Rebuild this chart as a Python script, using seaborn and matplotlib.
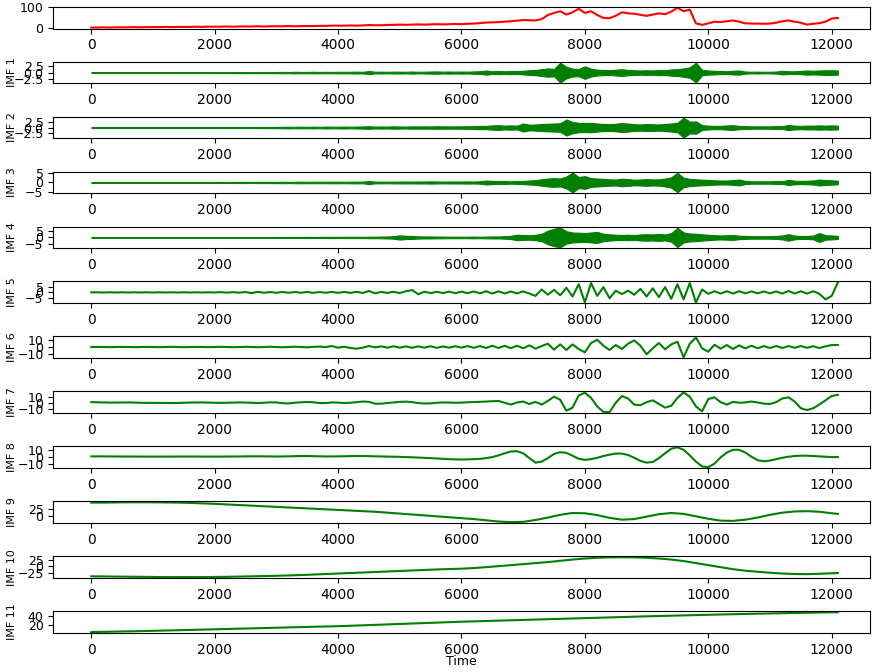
import numpy as np
import matplotlib
matplotlib.use("Agg")
import matplotlib.pyplot as plt
import seaborn as sns

# --- sample times (fine grid for the signal / IMFs, coarse grid for the slow ones) ---
time = np.arange(0, 12101, 100)
time_c = np.append(np.arange(0, 12001, 200), 12100)

# --- original signal ---
signal = [
    2, 2, 3, 2, 3, 3, 3, 4, 3, 4,
    4, 4, 5, 4, 5, 5, 5, 6, 5, 6,
    6, 6, 7, 6, 7, 7, 7, 8, 7, 8,
    8, 8, 9, 8, 9, 9, 9, 10, 10, 11,
    11, 11, 12, 11, 12, 14, 13, 13, 14, 15,
    16, 15, 16, 17, 16, 17, 18, 17, 18, 19,
    18, 20, 21, 23, 26, 27, 28, 30, 32, 35,
    38, 37, 36, 42, 62, 72, 80, 64, 75, 92,
    72, 80, 62, 48, 47, 58, 75, 70, 68, 63,
    58, 64, 70, 66, 78, 97, 80, 88, 22, 15,
    22, 30, 28, 32, 36, 30, 22, 21, 21, 20,
    21, 25, 32, 36, 30, 25, 16, 20, 23, 30,
    45, 48,
]

# --- high-frequency IMFs: amplitude envelope of the dense oscillation ---
imf1_env = [
    0.1, 0.1, 0.12, 0.1, 0.12, 0.1, 0.12, 0.12, 0.1, 0.12,
    0.12, 0.15, 0.12, 0.15, 0.12, 0.15, 0.15, 0.12, 0.15, 0.15,
    0.15, 0.18, 0.15, 0.2, 0.18, 0.2, 0.18, 0.2, 0.22, 0.2,
    0.22, 0.25, 0.22, 0.3, 0.25, 0.25, 0.3, 0.25, 0.28, 0.25,
    0.3, 0.28, 0.3, 0.35, 0.3, 0.6, 0.3, 0.35, 0.3, 0.35,
    0.35, 0.3, 0.4, 0.3, 0.35, 0.4, 0.45, 0.35, 0.4, 0.35,
    0.4, 0.35, 0.45, 0.5, 0.8, 0.5, 0.6, 0.5, 0.6, 0.55,
    0.7, 0.9, 1.0, 1.3, 1.6, 1.4, 3.8, 2.2, 1.5, 1.4,
    2.4, 1.5, 1.1, 1.0, 0.9, 1.1, 1.3, 1.0, 0.9, 0.8,
    0.9, 0.8, 1.0, 0.9, 1.2, 1.3, 1.6, 2.0, 3.8, 1.0,
    0.8, 0.7, 0.6, 0.5, 0.7, 0.8, 0.4, 0.3, 0.35, 0.3,
    0.3, 0.4, 0.7, 0.5, 0.5, 0.6, 0.8, 0.7, 0.8, 0.9,
    0.9, 0.8,
]
imf2_env = [
    0.1, 0.1, 0.12, 0.1, 0.12, 0.1, 0.12, 0.12, 0.1, 0.12,
    0.12, 0.15, 0.12, 0.15, 0.12, 0.15, 0.15, 0.12, 0.15, 0.15,
    0.18, 0.2, 0.18, 0.2, 0.2, 0.22, 0.2, 0.22, 0.25, 0.22,
    0.25, 0.3, 0.35, 0.3, 0.35, 0.3, 0.35, 0.3, 0.4, 0.35,
    0.35, 0.4, 0.35, 0.4, 0.45, 0.55, 0.4, 0.45, 0.4, 0.5,
    0.45, 0.4, 0.5, 0.45, 0.5, 0.45, 0.55, 0.5, 0.45, 0.5,
    0.5, 0.55, 0.6, 0.7, 0.7, 0.9, 1.0, 0.8, 0.9, 0.8,
    1.7, 1.2, 1.3, 1.5, 1.6, 1.7, 1.8, 3.4, 2.4, 2.0,
    1.9, 2.0, 1.7, 1.5, 1.4, 1.6, 1.9, 1.7, 1.4, 1.3,
    1.5, 1.4, 1.3, 1.5, 1.7, 2.0, 4.2, 2.5, 2.6, 1.0,
    0.8, 0.7, 0.7, 0.9, 1.0, 0.7, 0.6, 0.5, 0.5, 0.5,
    0.5, 0.6, 0.6, 1.1, 0.8, 0.7, 0.8, 0.8, 0.9, 0.8,
    0.9, 0.8,
]
imf3_env = [
    0.15, 0.15, 0.15, 0.15, 0.15, 0.18, 0.15, 0.18, 0.15, 0.18,
    0.18, 0.2, 0.18, 0.2, 0.2, 0.22, 0.2, 0.2, 0.22, 0.2,
    0.22, 0.25, 0.22, 0.25, 0.25, 0.28, 0.25, 0.3, 0.28, 0.3,
    0.3, 0.35, 0.3, 0.35, 0.4, 0.35, 0.35, 0.4, 0.35, 0.4,
    0.4, 0.35, 0.4, 0.45, 0.4, 0.8, 0.4, 0.45, 0.4, 0.45,
    0.45, 0.5, 0.45, 0.5, 0.5, 0.55, 0.5, 0.45, 0.5, 0.5,
    0.5, 0.55, 0.5, 0.6, 1.0, 0.8, 0.7, 0.7, 0.6, 0.7,
    0.8, 1.0, 1.2, 1.6, 2.0, 2.2, 2.0, 3.0, 5.0, 2.8,
    3.2, 2.2, 2.0, 1.8, 1.6, 1.5, 1.9, 1.7, 1.4, 1.5,
    1.7, 1.5, 1.6, 2.0, 2.6, 4.9, 2.4, 1.8, 1.6, 1.4,
    1.3, 1.1, 1.0, 1.0, 1.2, 1.5, 0.8, 0.6, 0.6, 0.6,
    0.6, 0.7, 0.7, 1.3, 0.9, 0.8, 0.9, 1.0, 1.5, 1.2,
    1.1, 0.9,
]
imf4_env = [
    0.15, 0.15, 0.15, 0.18, 0.15, 0.18, 0.15, 0.18, 0.2, 0.18,
    0.2, 0.2, 0.22, 0.2, 0.22, 0.2, 0.22, 0.22, 0.25, 0.22,
    0.25, 0.25, 0.28, 0.25, 0.3, 0.28, 0.3, 0.3, 0.32, 0.3,
    0.35, 0.35, 0.4, 0.35, 0.4, 0.45, 0.4, 0.45, 0.45, 0.5,
    0.45, 0.5, 0.5, 0.55, 0.5, 0.6, 0.6, 0.7, 0.8, 1.0,
    1.7, 1.3, 1.2, 0.9, 0.8, 0.8, 0.7, 0.7, 0.6, 0.6,
    0.6, 0.6, 0.7, 0.6, 0.7, 0.8, 0.8, 1.0, 1.3, 2.2,
    2.0, 1.8, 2.2, 3.0, 5.5, 7.0, 8.0, 5.0, 4.0, 3.8,
    3.6, 4.0, 4.5, 3.0, 2.5, 2.2, 2.0, 2.2, 2.0, 2.4,
    2.6, 2.4, 2.8, 2.4, 3.5, 7.8, 4.0, 3.2, 3.0, 2.5,
    2.2, 1.8, 1.6, 1.8, 2.0, 1.4, 1.2, 1.0, 1.0, 1.0,
    1.0, 1.2, 1.6, 2.6, 1.5, 1.2, 1.2, 1.5, 3.6, 1.8,
    1.6, 1.2,
]

# --- oscillating IMFs ---
imf5 = [
    0, 0.1, -0.1, 0.1, -0.1, 0.1, -0.1, 0.1, -0.1, 0.1,
    -0.1, 0.1, -0.1, 0.1, -0.1, 0.1, -0.1, 0.1, -0.1, 0.1,
    -0.1, 0.2, -0.2, 0.2, -0.2, 0.3, -0.6, 0.5, -0.3, 0.3,
    -0.3, 0.3, -0.3, 0.3, -0.3, 0.4, -0.4, 0.3, -0.3, 0.4,
    -0.4, 0.4, -0.4, 0.5, -0.5, 1.2, -0.8, 0.4, -0.4, 0.5,
    -0.6, 1.0, 2.0, -1.6, 0.6, -0.6, 0.6, -0.6, 0.7, -0.7,
    0.7, -0.7, 0.8, -0.8, 1.0, -1.0, 0.9, -0.9, 0.8, -0.9,
    0.9, -1.0, -3.0, 2.5, -2.0, 2.2, -2.5, 4.0, -3.5, 7.0,
    -8.5, 8.0, -3.0, 4.5, -5.0, 1.5, -1.5, 1.5, -2.0, 3.0,
    -3.5, 3.5, -4.0, 4.5, -5.5, 7.0, -6.0, 8.0, -8.5, 2.5,
    -1.2, 1.0, -1.0, 1.0, -1.0, 1.0, -0.8, 0.8, -0.8, 0.8,
    -0.8, 0.8, -1.0, 1.2, -1.0, 1.0, -1.0, 1.0, -1.2, -6.0,
    -3.0, 8.5,
]
imf6 = [
    0, 0.2, 0, -0.2, 0, 0.2, 0, -0.2, 0, 0.2,
    0, -0.2, 0, 0.3, 0, -0.3, 0, 0.2, 0, -0.2,
    0, 0.3, 0, -0.3, 0, 0.3, 0, -0.3, 0, 0.4,
    0, -0.4, 0, 0.5, 0, -0.5, 0.3, 0.6, 0, 1.5,
    -1.0, 0.5, -1.5, -2.5, -1.0, 1.5, -0.5, 1.0, -1.0, 1.2,
    -1.0, 1.0, -1.2, 1.0, -1.0, 1.2, -1.2, 0.8, -1.0, 1.2,
    -1.0, 1.5, -1.2, 1.5, -1.5, 2.0, -1.5, 1.8, -1.8, 2.0,
    -2.0, 2.5, -2.5, 1.5, 5.0, -4.0, 4.0, -4.5, 4.0, -3.0,
    -8.0, 6.0, 11.0, 2.0, -4.5, 3.0, -3.0, 5.0, 10.0, 2.0,
    -11.0, -2.0, 6.0, -3.5, 4.0, 8.0, -15.5, 5.0, 14.5, -2.0,
    -7.0, 3.5, -2.5, 3.0, -3.0, 2.5, -2.0, 2.0, -2.0, 1.5,
    -1.5, 1.5, -1.5, 1.5, -1.2, 1.5, -1.2, 1.2, -1.5, 1.0,
    3.0, 3.0,
]
imf7 = [
    1.0, 0.8, 0.5, 0.3, 0.3, 0.5, 0.5, 0.3, 0, -0.2,
    -0.3, -0.2, -0.3, -0.5, -0.3, 0, 0.3, 0.5, 0.5, 0.3,
    0, -0.2, 0, 0.3, 0.5, 0.3, 0, -0.5, 0, 0.8,
    0.5, -0.8, -1.0, 0, 0.8, 1.2, 0.8, -0.5, -0.5, 0.5,
    0.3, -0.5, 0, 1.0, 2.0, 1.5, -1.5, -1.5, -0.5, 0.5,
    1.5, 1.8, 1.0, -0.5, -1.2, -1.0, 0, 0.5, 0.3, 0,
    0.2, 0.8, 1.2, 1.5, 2.0, 2.5, 3.0, 0, -3.0, 0.5,
    2.0, -2.0, 1.5, -3.0, 3.0, 10.0, 5.0, -13.0, -8.0, 12.0,
    16.5, 8.0, -6.0, -15.0, -15.5, 0, 11.0, 7.0, -3.0, -4.0,
    1.0, 4.0, -2.0, -8.0, -5.0, 8.0, 17.0, 10.0, -6.0, -14.0,
    6.0, 9.0, 1.0, -3.0, 1.5, 0, 0.5, 2.0, 0.5, -1.5,
    -2.0, 1.0, 7.0, 9.0, 2.0, -9.0, -12.0, -9.0, -3.0, 4.0,
    11.0, 13.0,
]
imf8 = [
    0.5, 0.5, 0.5, 0.4, 0.4, 0.3, 0.3, 0.3, 0.2, 0.2,
    0.2, 0.2, 0.2, 0.2, 0.3, 0.3, 0.3, 0.3, 0.2, 0.2,
    0.2, 0.2, 0.3, 0.3, 0.4, 0.5, 0.6, 0.6, 0.5, 0.4,
    0.3, 0.4, 0.6, 0.8, 1.0, 1.0, 0.8, 0.6, 0.4, 0.4,
    0.5, 0.7, 0.9, 1.0, 1.0, 0.8, 0.6, 0.4, 0.2, 0,
    -0.2, -0.5, -0.8, -1.2, -1.6, -2.0, -2.5, -3.0, -3.5, -3.8,
    -4.0, -3.8, -3.5, -3.0, -2.0, -0.5, 2.0, 5.0, 7.5, 8.0,
    5.0, -2.0, -8.5, -7.0, -2.0, 4.0, 6.5, 5.5, 1.5, -3.0,
    -4.5, -3.5, -1.5, 1.0, 3.0, 4.5, 4.5, 2.5, -1.5, -6.0,
    -8.5, -7.5, -2.0, 5.0, 11.5, 13.5, 10.0, 2.0, -7.0, -14.0,
    -15.0, -10.0, -1.0, 6.0, 10.0, 10.0, 6.0, 0, -5.0, -6.5,
    -5.5, -3.5, -1.5, 0, 1.0, 1.5, 1.5, 1.0, 0.5, 0,
    -0.5, -0.5,
]

# --- slow IMFs / trend (coarse grid) ---
imf9 = [
    45, 45, 45.5, 46, 46, 46, 45.5, 45, 44, 42.5,
    41, 39, 37, 35, 33, 31, 29, 27, 25, 23,
    21, 19, 17, 15, 12, 9, 6, 3, 0, -3,
    -6, -9, -13, -17, -19, -18, -12, -4, 5, 11,
    10, 4, -5, -11, -9, -1, 7, 11, 8, 0,
    -8, -14, -15, -11, -4, 5, 12, 16, 17, 15,
    10, 8,
]
imf10 = [
    -40, -40.5, -41, -41.5, -42, -42.5, -43, -43, -43, -43,
    -42.5, -42, -41, -40, -39, -38, -36.5, -35, -33, -31,
    -29, -27, -25, -23, -21, -19, -17, -15, -13, -11.5,
    -10, -7.5, -4, 0, 4, 8, 12, 16, 21, 26,
    30, 33, 34.5, 35, 34.5, 33, 30, 26, 20, 12,
    4, -4, -12, -18, -22, -26, -29, -31, -31.5, -30,
    -28, -27,
]
imf11 = [
    3.5, 4.0, 4.5, 5.0, 5.6, 6.2, 6.9, 7.5, 8.2, 8.9,
    9.6, 10.3, 11.0, 11.7, 12.4, 13.1, 13.8, 14.5, 15.2, 15.9,
    16.5, 17.5, 18.5, 19.5, 20.5, 21.5, 22.5, 23.5, 24.5, 25.5,
    26.5, 27.3, 28.1, 28.9, 29.7, 30.5, 31.3, 32.1, 32.9, 33.7,
    34.5, 35.3, 36.1, 36.9, 37.7, 38.5, 39.2, 39.9, 40.6, 41.3,
    42.0, 42.6, 43.2, 43.8, 44.4, 45.0, 45.5, 46.0, 46.5, 47.0,
    47.5, 47.7,
]

# y tick positions shown on each panel
yticks = [
    [0, 100],
    [-2.5, 0, 2.5], [-2.5, 0, 2.5], [-5, 0, 5], [-5, 0, 5], [-5, 0, 5],
    [-10, 0, 10], [-10, 0, 10], [-10, 0, 10],
    [0, 25], [-25, 0, 25], [20, 40],
]

fig, axes = plt.subplots(12, 1, figsize=(8.74, 6.72))

# top: original signal
sns.lineplot(x=time, y=signal, color="red", ax=axes[0])

# IMF 1-4: dense oscillation drawn as its envelope band
for i, env in enumerate([imf1_env, imf2_env, imf3_env, imf4_env], start=1):
    env = np.array(env)
    axes[i].fill_between(time, -env, env, color="green", lw=0.8)

# IMF 5-8
for i, vals in enumerate([imf5, imf6, imf7, imf8], start=5):
    sns.lineplot(x=time, y=vals, color="green", ax=axes[i])

# IMF 9-11
for i, vals in enumerate([imf9, imf10, imf11], start=9):
    sns.lineplot(x=time_c, y=vals, color="green", ax=axes[i])

for i, ax in enumerate(axes):
    ax.set_xlim(-615, 12615)
    ax.set_yticks(yticks[i])
    ax.tick_params(axis="y", labelsize=9)
    ax.set_xlabel("")
    ax.set_ylabel(f"IMF {i}" if i > 0 else "", fontsize=8)
    ax.yaxis.set_label_coords(-0.044, 0.5)

axes[-1].set_xlabel("Time", fontsize=9)
axes[-1].xaxis.set_label_coords(0.5, -1.02)

fig.subplots_adjust(left=0.061, right=0.995, top=0.99, bottom=0.058, hspace=1.52)
fig.savefig("out.png", dpi=100)
